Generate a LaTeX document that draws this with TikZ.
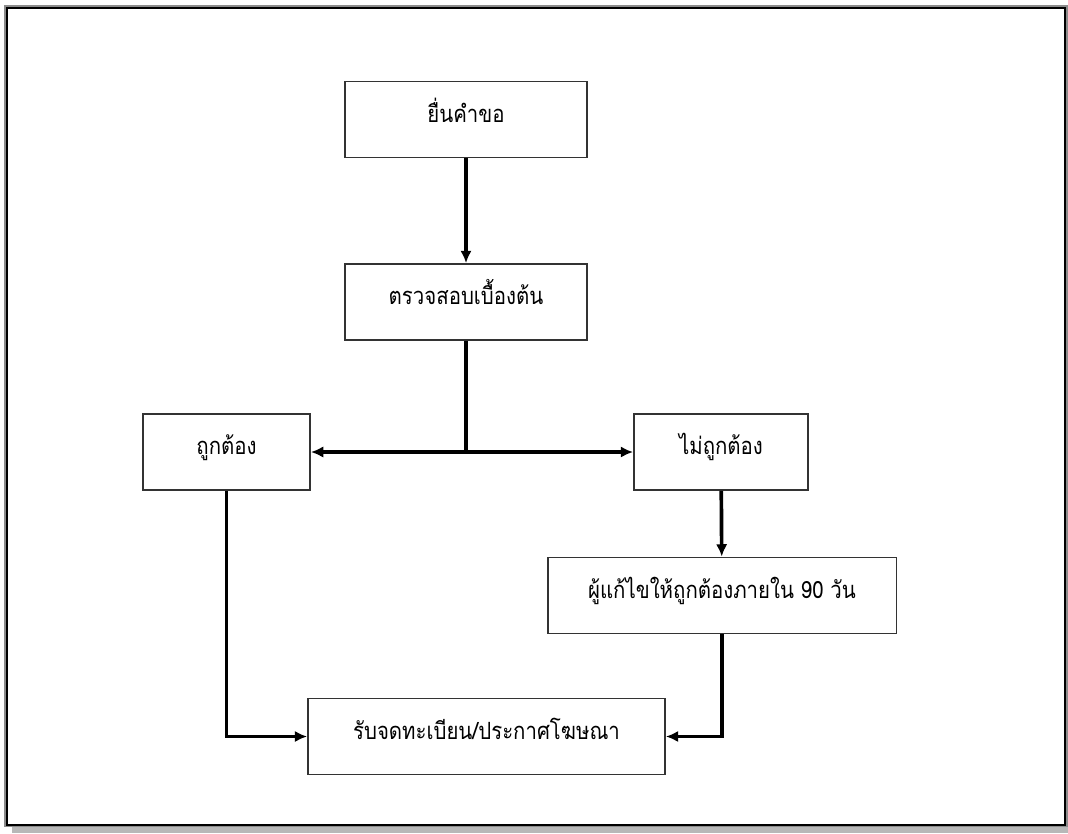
\documentclass[tikz,border=0pt]{standalone}
\usepackage{fontspec}
\newfontfamily\thaifont[Script=Thai, FakeStretch=0.86]{Loma}
\usetikzlibrary{positioning, arrows.meta}

\begin{document}
\begin{tikzpicture}[
        x=0.02cm, y=-0.02cm,
        box/.style={draw=black!80, line width=1.1pt, minimum width=#1, minimum height=1.52cm,
            inner sep=0pt, text height=9pt, text depth=6pt, font=\thaifont\fontsize{13.5}{15}\selectfont},
        flow/.style={-{Latex[length=7pt, width=6.5pt]}, line width=2.1pt}
    ]
    \useasboundingbox (0,0) rectangle (1068,833);

    % Rahmen mit Schatten
    \fill[black!28] (12,826) rectangle (1068,833);
    \draw[black!45, line width=0.6pt] (5,6) rectangle (1067,826);
    \draw[black, line width=1pt] (7,8) rectangle (1065,825);

    % Kaesten
    \node[box=4.84cm] (antrag) at (466,119.5) {ยื่นคำขอ};
    \node[box=4.84cm] (pruefung) at (466,302) {ตรวจสอบเบื้องต้น};
    \node[box=3.34cm] (richtig) at (226.5,452) {ถูกต้อง};
    \node[box=3.48cm] (falsch) at (721,452) {ไม่ถูกต้อง};
    \node[box=6.98cm] (korrektur) at (722,595.5) {ผู้แก้ไขให้ถูกต้องภายใน 90 วัน};
    \node[box=7.14cm] (eintrag) at (486.5,736.5) {รับจดทะเบียน/ประกาศโฆษณา};

    % Verzweigung
    \coordinate (split) at (pruefung.south |- richtig.east);

    % Pfeile
    \draw[flow] (antrag) -- (pruefung);
    \draw[line width=2.1pt] (pruefung) -- (split);
    \draw[flow] (split) -- (richtig);
    \draw[flow] (split) -- (falsch);
    \draw[flow] (falsch) -- (korrektur);
    \draw[flow] (richtig) |- (eintrag);
    \draw[flow] (korrektur) |- (eintrag);

\end{tikzpicture}
\end{document}
